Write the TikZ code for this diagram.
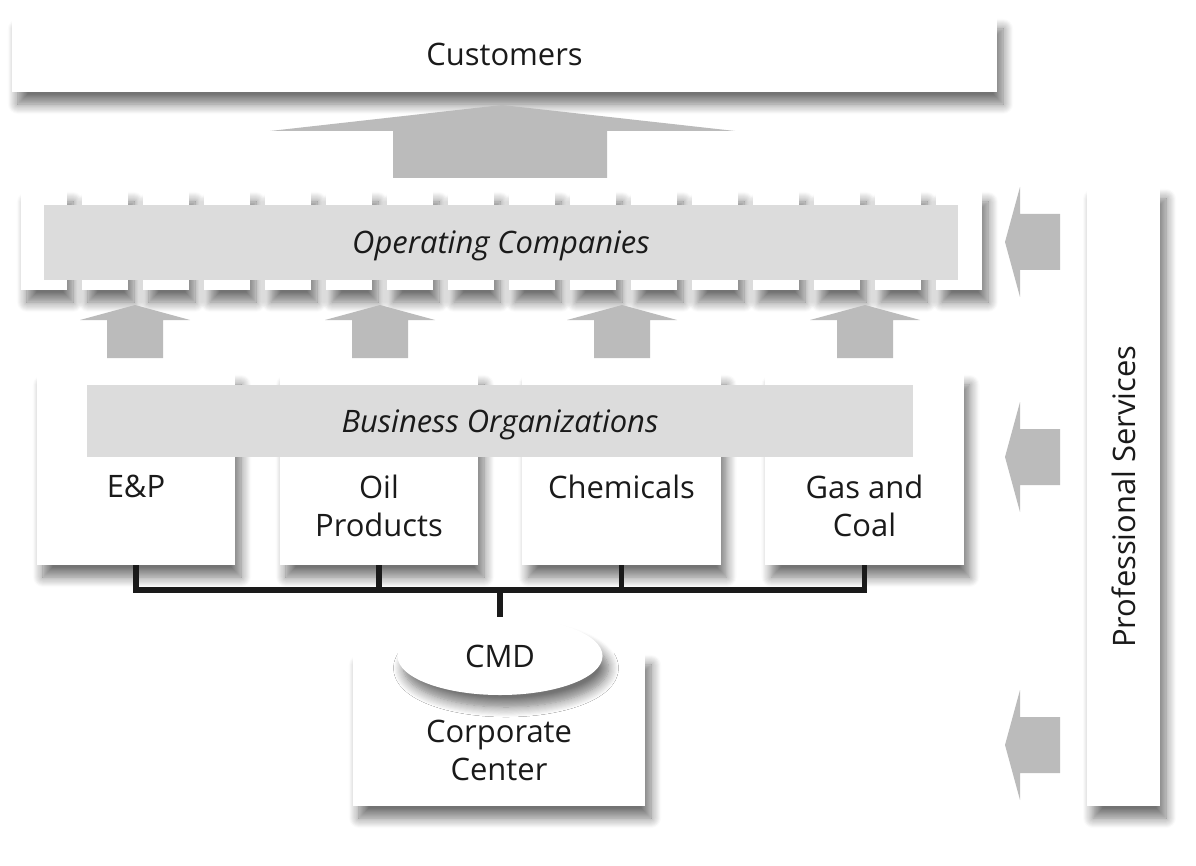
\documentclass[tikz,border=0pt]{standalone}
\usepackage{fontspec}
\setmainfont{Open Sans}
\usetikzlibrary{shadows.blur,shapes.geometric}
\definecolor{arrowgray}{HTML}{BBBBBB}
\definecolor{bargray}{HTML}{DCDCDC}
\definecolor{ink}{HTML}{1A1A1A}

\begin{document}
\begin{tikzpicture}[x=0.025cm, y=-0.025cm,
    every node/.style = {font=\fontsize{22}{27}\selectfont, text=ink},
    box/.style = {fill=white, inner sep=0pt, align=center,
        blur shadow={shadow xshift=.15cm, shadow yshift=-.3cm,
        shadow blur radius=.25cm, shadow blur steps=10, shadow opacity=55}},
    tile/.style = {box, minimum width=1.15cm, minimum height=2.5cm},
    bizbox/.style = {box, minimum width=4.95cm, minimum height=4.8cm},
    graybar/.style = {fill=bargray, inner sep=0pt, text depth=0pt,
        font=\fontsize{22}{27}\selectfont\itshape},
    boxtext/.style = {align=center, inner sep=0pt, anchor=north},
    blockarrow/.style = {fill=arrowgray},
    conn/.style = {draw=ink, line width=3.6pt}]
  \useasboundingbox (0,0) rectangle (1196,866);

  % customers on top
  \node (cust) [box, minimum width=24.625cm, minimum height=1.875cm]
      at (504.5,54.5) {Customers};
  \fill[blockarrow] (502,105) -- (735,131) -- (607,131) -- (607,178)
      -- (393,178) -- (393,131) -- (270,131) -- cycle;

  % operating companies
  \node (op1) [tile] at (44,240) {};
  \node (op2) [tile] at (105,240) {};
  \node (op3) [tile] at (166,240) {};
  \node (op4) [tile] at (227,240) {};
  \node (op5) [tile] at (288,240) {};
  \node (op6) [tile] at (349,240) {};
  \node (op7) [tile] at (410,240) {};
  \node (op8) [tile] at (471,240) {};
  \node (op9) [tile] at (532,240) {};
  \node (op10) [tile] at (593,240) {};
  \node (op11) [tile] at (654,240) {};
  \node (op12) [tile] at (715,240) {};
  \node (op13) [tile] at (776,240) {};
  \node (op14) [tile] at (837,240) {};
  \node (op15) [tile] at (898,240) {};
  \node (op16) [tile] at (959,240) {};
  \node (opco) [graybar, minimum width=22.85cm, minimum height=1.875cm]
      at (501,242.5) {Operating Companies};

  % arrows up from the businesses
  \fill[blockarrow] (135,305) -- ++(55,15) -- ++(-27,0) -- ++(0,38)
      -- ++(-56,0) -- ++(0,-38) -- ++(-27,0) -- cycle;
  \fill[blockarrow] (380,305) -- ++(55,15) -- ++(-27,0) -- ++(0,38)
      -- ++(-56,0) -- ++(0,-38) -- ++(-27,0) -- cycle;
  \fill[blockarrow] (622,305) -- ++(55,15) -- ++(-27,0) -- ++(0,38)
      -- ++(-56,0) -- ++(0,-38) -- ++(-27,0) -- cycle;
  \fill[blockarrow] (865,305) -- ++(55,15) -- ++(-27,0) -- ++(0,38)
      -- ++(-56,0) -- ++(0,-38) -- ++(-27,0) -- cycle;

  % business organizations
  \node (ep) [bizbox] at (136,469) {};
  \node (oil) [bizbox] at (379,469) {};
  \node (chem) [bizbox] at (621.5,469) {};
  \node (gas) [bizbox] at (864.5,469) {};
  \node (bizorg) [graybar, minimum width=20.65cm, minimum height=1.8cm]
      at (500,421) {Business Organizations};
  \node (eptext) [boxtext] at (136,475) {E\&P};
  \node (oiltext) [boxtext] at (379,475) {Oil\\Products};
  \node (chemtext) [boxtext] at (621.5,475) {Chemicals};
  \node (gastext) [boxtext] at (864.5,475) {Gas and\\Coal};

  % corporate center
  \node (cc) [box, minimum width=7.3cm, minimum height=3.825cm]
      at (499,729.5) {};
  \node (cctext) [boxtext] at (499,720) {Corporate\\Center};
  \node (cmd) [box, ellipse, minimum width=5.125cm, minimum height=1.95cm]
      at (500,656) {CMD};

  \coordinate (bus) at (500,590);
  \draw[conn] (ep.south) -- (ep.south |- bus) -- (gas.south |- bus)
      -- (gas.south);
  \draw[conn] (oil.south) -- (oil.south |- bus);
  \draw[conn] (chem.south) -- (chem.south |- bus);
  \draw[conn] (cmd.north) -- (bus);

  % professional services
  \node (prof) [box, minimum width=1.825cm, minimum height=15.475cm]
      at (1123.5,496.5) {};
  \node (proftext) [rotate=90, inner sep=0pt] at (prof.center)
      {Professional Services};
  \fill[blockarrow] (1005,242) -- ++(15,-55) -- ++(0,27) -- ++(40,0)
      -- ++(0,56) -- ++(-40,0) -- ++(0,27) -- cycle;
  \fill[blockarrow] (1005,457) -- ++(15,-55) -- ++(0,27) -- ++(40,0)
      -- ++(0,56) -- ++(-40,0) -- ++(0,27) -- cycle;
  \fill[blockarrow] (1005,745) -- ++(15,-55) -- ++(0,27) -- ++(40,0)
      -- ++(0,56) -- ++(-40,0) -- ++(0,27) -- cycle;
\end{tikzpicture}
\end{document}
